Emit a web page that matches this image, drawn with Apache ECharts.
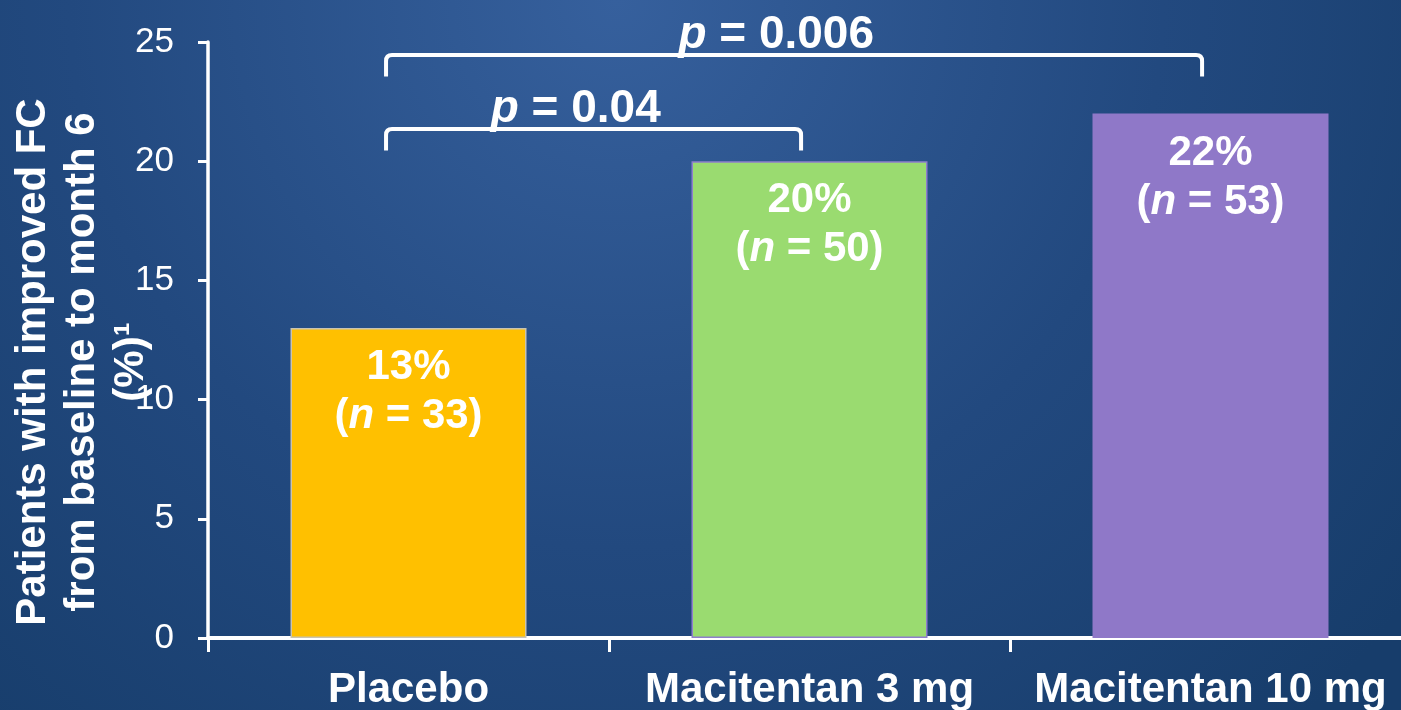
<!DOCTYPE html>
<html>
<head>
<meta charset="utf-8">
<title>Patients with improved FC</title>
<script src="https://cdn.jsdelivr.net/npm/echarts@6/dist/echarts.min.js"></script>
<style>
  html, body { margin: 0; padding: 0; background: #1b4374; }
  #chart { width: 1401px; height: 710px; }
</style>
</head>
<body>
<div id="chart"></div>
<script>
// Treatment arms and outcome
const categories = ['Placebo', 'Macitentan 3 mg', 'Macitentan 10 mg'];
const improvedPct = [13, 20, 22];
const patientsN = [33, 50, 53];

// Y axis ticks
const yMin = 0;
const yMax = 25;
const yStep = 5;

// Significance brackets: [from arm, to arm, bracket height in %]
const bracketArms = [[0, 1], [0, 2]];
const bracketLevel = [21.35, 24.45];
const pValues = ['0.04', '0.006'];
const bracketDrop = 0.9;

const FONT = '"Liberation Sans", Arial, Helvetica, sans-serif';
const barColors = ['#ffc000', '#9adb70', '#8f78c8'];
const barBorders = ['#c9c3b0', '#8e7fcc', '#8f78c8'];

const chart = echarts.init(document.getElementById('chart'), null, { renderer: 'canvas' });

const bracketData = bracketArms.map((p, i) => [p[0], p[1], bracketLevel[i], i]);

const option = {
  backgroundColor: {
    type: 'radial', x: 0.44, y: 0, r: 1.4,
    colorStops: [
      { offset: 0, color: '#36609d' },
      { offset: 0.55, color: '#22497f' },
      { offset: 1, color: '#173d6b' }
    ]
  },
  animation: false,
  // plot area runs past the right edge of the canvas
  grid: { left: 208, top: 42, right: -10, bottom: 72, containLabel: false, outerBoundsMode: 'none' },
  xAxis: {
    type: 'category',
    data: categories,
    axisLine: { show: true, lineStyle: { color: '#ffffff', width: 4 } },
    axisTick: { show: true, length: 14, alignWithLabel: false, lineStyle: { color: '#ffffff', width: 3 } },
    axisLabel: {
      color: '#ffffff', fontFamily: FONT, fontSize: 42, fontWeight: 'bold',
      margin: 31, lineHeight: 42, interval: 0
    },
    splitLine: { show: false }
  },
  yAxis: {
    type: 'value',
    min: yMin, max: yMax, interval: yStep,
    axisLine: { show: true, lineStyle: { color: '#ffffff', width: 3.5 } },
    axisTick: { show: true, length: 10, inside: false, lineStyle: { color: '#ffffff', width: 3 } },
    axisLabel: { color: '#ffffff', fontFamily: FONT, fontSize: 35, margin: 34 },
    splitLine: { show: false }
  },
  graphic: [{
    type: 'text',
    x: 82, y: 362,
    rotation: Math.PI / 2,
    style: {
      text: 'Patients with improved FC\nfrom baseline to month 6\n(%)\u00B9',
      fill: '#ffffff',
      font: 'bold 42px ' + FONT,
      lineHeight: 49,
      align: 'center',
      verticalAlign: 'middle'
    }
  }],
  series: [
    {
      type: 'bar',
      barWidth: 236,
      data: improvedPct.map((v, i) => ({
        value: v,
        itemStyle: { color: barColors[i], borderColor: barBorders[i], borderWidth: 1.5 }
      })),
      label: {
        show: true,
        position: 'insideTop',
        distance: 15,
        color: '#ffffff',
        fontFamily: FONT,
        fontSize: 42,
        fontWeight: 'bold',
        lineHeight: 49,
        formatter: (p) => '{b|' + p.value + '%}\n{b|(}{i|n}{b| = ' + patientsN[p.dataIndex] + ')}',
        rich: {
          b: { color: '#ffffff', fontFamily: FONT, fontSize: 42, fontWeight: 'bold', lineHeight: 49 },
          i: { color: '#ffffff', fontFamily: FONT, fontSize: 42, fontWeight: 'bold', fontStyle: 'italic', lineHeight: 49 }
        }
      }
    },
    {
      type: 'custom',
      data: bracketData,
      encode: { x: 0, y: 2 },
      clip: false,
      silent: true,
      renderItem: function (params, api) {
        const from = api.value(0), to = api.value(1), level = api.value(2), idx = api.value(3);
        const bw = api.size([1, 0])[0];
        const top = api.coord([from, level]);
        const end = api.coord([to, level]);
        const yb = api.coord([from, level - bracketDrop])[1];
        const x1 = top[0] - 0.056 * bw;
        const x2 = end[0] - 0.021 * bw;
        const yt = top[1];
        const r = 6;
        const path = 'M' + x1 + ' ' + yb + ' L' + x1 + ' ' + (yt + r) +
          ' Q' + x1 + ' ' + yt + ' ' + (x1 + r) + ' ' + yt +
          ' L' + (x2 - r) + ' ' + yt +
          ' Q' + x2 + ' ' + yt + ' ' + x2 + ' ' + (yt + r) +
          ' L' + x2 + ' ' + yb;
        const mid = (top[0] + end[0]) / 2;
        return {
          type: 'group',
          children: [
            {
              type: 'path',
              shape: { pathData: path },
              style: { stroke: '#ffffff', lineWidth: 4, fill: null, lineJoin: 'round' }
            },
            {
              type: 'text',
              style: {
                x: mid - 0.083 * bw,
                y: yt - 20,
                text: '{i|p}{b| = ' + pValues[idx] + '}',
                align: 'center',
                verticalAlign: 'middle',
                fill: '#ffffff',
                rich: {
                  b: { fill: '#ffffff', fontFamily: FONT, fontSize: 46, fontWeight: 'bold' },
                  i: { fill: '#ffffff', fontFamily: FONT, fontSize: 46, fontWeight: 'bold', fontStyle: 'italic' }
                }
              }
            }
          ]
        };
      }
    }
  ]
};

chart.setOption(option);
</script>
</body>
</html>
